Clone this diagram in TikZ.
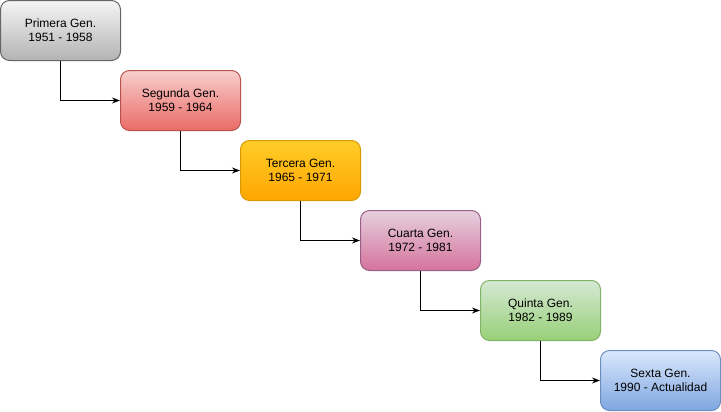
\documentclass[tikz,border=0pt]{standalone}
\usepackage{fontspec}
\setmainfont{Liberation Sans}
\usetikzlibrary{arrows.meta}

\definecolor{grisA}{HTML}{F5F5F5}\definecolor{grisB}{HTML}{B3B3B3}\definecolor{grisL}{HTML}{666666}
\definecolor{rojoA}{HTML}{F8CECC}\definecolor{rojoB}{HTML}{EA6B66}\definecolor{rojoL}{HTML}{B85450}
\definecolor{naraA}{HTML}{FFCD28}\definecolor{naraB}{HTML}{FFA500}\definecolor{naraL}{HTML}{D79B00}
\definecolor{moraA}{HTML}{E6D0DE}\definecolor{moraB}{HTML}{D5739D}\definecolor{moraL}{HTML}{996185}
\definecolor{verdA}{HTML}{D5E8D4}\definecolor{verdB}{HTML}{97D077}\definecolor{verdL}{HTML}{82B366}
\definecolor{azulA}{HTML}{DAE8FC}\definecolor{azulB}{HTML}{7EA6E0}\definecolor{azulL}{HTML}{6C8EBF}

\tikzset{
gen/.style={rectangle,rounded corners=6.75pt,line width=0.75pt,minimum width=90pt,minimum height=45pt,
  align=center,font=\fontsize{9pt}{10.5pt}\selectfont,top color=#1A,bottom color=#1B,draw=#1L},
paso/.style={-{Stealth[length=6pt,width=4.5pt]},line width=0.75pt,black}
}

\begin{document}
\begin{tikzpicture}[x=0.75pt,y=-0.75pt]
\useasboundingbox (0,0) rectangle (721,411);
\node[gen=gris] (G1) at (60.5,30.5) {Primera Gen.\\1951 - 1958};
\node[gen=rojo] (G2) at (180.5,100.5) {Segunda Gen.\\1959 - 1964};
\node[gen=nara] (G3) at (300.5,170.5) {Tercera Gen.\\1965 - 1971};
\node[gen=mora] (G4) at (420.5,240.5) {Cuarta Gen.\\1972 - 1981};
\node[gen=verd] (G5) at (540.5,310.5) {Quinta Gen.\\1982 - 1989};
\node[gen=azul] (G6) at (660.5,380.5) {Sexta Gen.\\1990 - Actualidad};

\draw[paso] (G1.south) |- (G2.west);
\draw[paso] (G2.south) |- (G3.west);
\draw[paso] (G3.south) |- (G4.west);
\draw[paso] (G4.south) |- (G5.west);
\draw[paso] (G5.south) |- (G6.west);
\end{tikzpicture}
\end{document}
